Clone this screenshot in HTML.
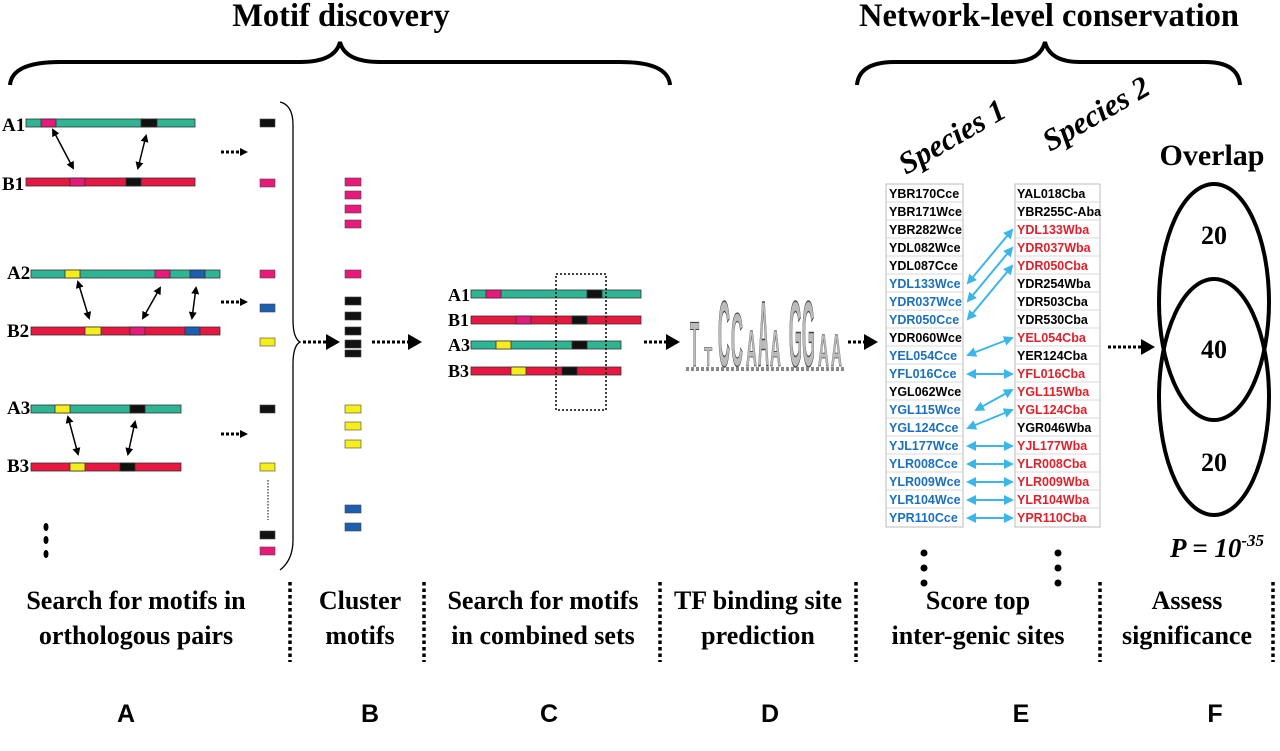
<!DOCTYPE html>
<html><head><meta charset="utf-8"><style>
body{margin:0;background:#fff}
svg{display:block}
.t{font-family:"Liberation Serif",serif;font-weight:bold}
.g{font-family:"Liberation Sans",sans-serif;font-weight:bold}
.L{font-family:"Liberation Sans",sans-serif;font-weight:bold;font-size:25px}
</style></head><body>
<svg width="1280" height="751" viewBox="0 0 1280 751" xmlns="http://www.w3.org/2000/svg">
<defs>
<marker id="ah" markerWidth="8" markerHeight="8" refX="6" refY="4" orient="auto-start-reverse" markerUnits="userSpaceOnUse"><path d="M0,0 L8,4 L0,8 z" fill="#000"/></marker>
<marker id="bh" markerWidth="10" markerHeight="10" refX="8" refY="5" orient="auto-start-reverse" markerUnits="userSpaceOnUse"><path d="M0,0 L10,5 L0,10 z" fill="#3bb6ea"/></marker>
<marker id="big" markerWidth="14" markerHeight="16" refX="4" refY="8" orient="auto" markerUnits="userSpaceOnUse"><path d="M0,0 L14,8 L0,16 z" fill="#000"/></marker>
</defs>
<style>
.da{stroke:#000;stroke-width:3;stroke-dasharray:3,2;fill:none}
.dv{stroke:#000;stroke-width:3.5;stroke-dasharray:3.5,3;fill:none}
</style>
<text class="t" x="341" y="26" font-size="32.5" text-anchor="middle">Motif discovery</text>
<text class="t" x="1049" y="26" font-size="32.5" text-anchor="middle">Network-level conservation</text>
<path d="M10,85 Q12,62 60,62 L300,62 Q335,62 340,42 Q345,62 380,62 L620,62 Q668,62 670,85" stroke="#000" stroke-width="4" fill="none"/>
<path d="M857,85 Q859,62 895,62 L1010,62 Q1040,62 1045,42 Q1050,62 1080,62 L1205,62 Q1238,62 1240,85" stroke="#000" stroke-width="4" fill="none"/>

<!-- Panel A -->
<g class="t" font-size="19">
<text x="2" y="131">A1</text><text x="2" y="190">B1</text>
<text x="7" y="279">A2</text><text x="7" y="337">B2</text>
<text x="7" y="414">A3</text><text x="7" y="472">B3</text>
</g>
<g stroke="#333" stroke-width="0.8">
<rect x="26" y="119" width="169" height="8" fill="#2eb593"/><rect x="41" y="119" width="15" height="8" fill="#e8197a"/><rect x="141" y="119" width="16" height="8" fill="#111"/>
<rect x="26" y="178" width="169" height="8" fill="#e8173f"/><rect x="70" y="178" width="15" height="8" fill="#e8197a"/><rect x="126" y="178" width="15" height="8" fill="#111"/>
<rect x="31" y="270" width="189" height="8" fill="#2eb593"/><rect x="65" y="270" width="15" height="8" fill="#f5ee1a"/><rect x="155" y="270" width="15" height="8" fill="#e8197a"/><rect x="190" y="270" width="15" height="8" fill="#1c5fb0"/>
<rect x="31" y="327" width="189" height="8" fill="#e8173f"/><rect x="85" y="327" width="16" height="8" fill="#f5ee1a"/><rect x="130" y="327" width="15" height="8" fill="#e8197a"/><rect x="185" y="327" width="15" height="8" fill="#1c5fb0"/>
<rect x="31" y="405" width="150" height="8" fill="#2eb593"/><rect x="55" y="405" width="15" height="8" fill="#f5ee1a"/><rect x="130" y="405" width="15" height="8" fill="#111"/>
<rect x="31" y="463" width="150" height="8" fill="#e8173f"/><rect x="70" y="463" width="15" height="8" fill="#f5ee1a"/><rect x="120" y="463" width="15" height="8" fill="#111"/>
</g>
<g stroke="#000" stroke-width="1.5" marker-start="url(#ah)" marker-end="url(#ah)">
<line x1="53" y1="130" x2="73" y2="168"/><line x1="146" y1="136" x2="138" y2="168"/>
<line x1="78" y1="282" x2="89" y2="318"/><line x1="160" y1="288" x2="143" y2="318"/><line x1="196" y1="288" x2="192" y2="318"/>
<line x1="68" y1="417" x2="78" y2="454"/><line x1="135" y1="422" x2="128" y2="454"/>
</g>
<g fill="#000"><ellipse cx="46" cy="527" rx="2.5" ry="4"/><ellipse cx="46" cy="540" rx="2.5" ry="4"/><ellipse cx="46" cy="554" rx="2.5" ry="4"/></g>
<line class="da" x1="221" y1="152" x2="246" y2="152" marker-end="url(#ah)"/>
<line class="da" x1="221" y1="302" x2="246" y2="302" marker-end="url(#ah)"/>
<line class="da" x1="221" y1="434" x2="246" y2="434" marker-end="url(#ah)"/>
<g stroke="#444" stroke-width="0.6">
<rect x="260" y="119" width="15" height="8" fill="#111"/><rect x="260" y="179" width="15" height="8" fill="#e8197a"/>
<rect x="260" y="270" width="15" height="8" fill="#e8197a"/><rect x="260" y="304" width="15" height="8" fill="#1c5fb0"/><rect x="260" y="338" width="15" height="8" fill="#f5ee1a"/>
<rect x="260" y="405" width="15" height="8" fill="#111"/><rect x="260" y="463" width="15" height="8" fill="#f5ee1a"/>
<rect x="260" y="531" width="15" height="8" fill="#111"/><rect x="260" y="547" width="15" height="8" fill="#e8197a"/>
</g>
<line x1="268" y1="480" x2="268" y2="520" stroke="#000" stroke-width="1" stroke-dasharray="1.5,1.5"/>
<path d="M280,102 Q293,105 293,125 L293,320 Q293,338 300,342 Q293,346 293,364 L293,540 Q293,560 280,570" stroke="#000" stroke-width="1.3" fill="none"/>
<line class="da" x1="303" y1="342" x2="330" y2="342" marker-end="url(#big)"/>

<!-- Panel B -->
<g stroke="#444" stroke-width="0.6">
<rect x="345" y="178" width="16" height="8" fill="#e8197a"/><rect x="345" y="191" width="16" height="8" fill="#e8197a"/><rect x="345" y="205" width="16" height="8" fill="#e8197a"/><rect x="345" y="220" width="16" height="8" fill="#e8197a"/>
<rect x="345" y="270" width="16" height="8" fill="#e8197a"/>
<rect x="345" y="297" width="16" height="8" fill="#111"/><rect x="345" y="312" width="16" height="8" fill="#111"/><rect x="345" y="327" width="16" height="8" fill="#111"/><rect x="345" y="340" width="16" height="8" fill="#111"/><rect x="345" y="350" width="16" height="7" fill="#111"/>
<rect x="345" y="405" width="16" height="8" fill="#f5ee1a"/><rect x="345" y="422" width="16" height="8" fill="#f5ee1a"/><rect x="345" y="440" width="16" height="8" fill="#f5ee1a"/>
<rect x="345" y="505" width="16" height="8" fill="#1c5fb0"/><rect x="345" y="523" width="16" height="8" fill="#1c5fb0"/>
</g>
<line class="da" x1="372" y1="342" x2="412" y2="342" marker-end="url(#big)"/>

<!-- Panel C -->
<g class="t" font-size="18">
<text x="448" y="301">A1</text><text x="448" y="326">B1</text><text x="448" y="351">A3</text><text x="448" y="377">B3</text>
</g>
<g stroke="#333" stroke-width="0.8">
<rect x="471" y="290" width="170" height="8" fill="#2eb593"/><rect x="486" y="290" width="15" height="8" fill="#e8197a"/><rect x="587" y="290" width="15" height="8" fill="#111"/>
<rect x="471" y="316" width="170" height="8" fill="#e8173f"/><rect x="516" y="316" width="15" height="8" fill="#e8197a"/><rect x="572" y="316" width="15" height="8" fill="#111"/>
<rect x="471" y="341" width="150" height="8" fill="#2eb593"/><rect x="496" y="341" width="15" height="8" fill="#f5ee1a"/><rect x="572" y="341" width="15" height="8" fill="#111"/>
<rect x="471" y="367" width="150" height="8" fill="#e8173f"/><rect x="511" y="367" width="15" height="8" fill="#f5ee1a"/><rect x="562" y="367" width="15" height="8" fill="#111"/>
</g>
<rect x="556" y="274" width="50" height="136" fill="none" stroke="#000" stroke-width="1.5" stroke-dasharray="2,2"/>
<line class="da" x1="644" y1="342" x2="670" y2="342" marker-end="url(#big)"/>

<!-- Panel D logo -->
<g font-family="Liberation Sans,sans-serif" font-weight="bold" font-size="30" fill="#bbb" stroke="#444" stroke-width="0.5">
<text transform="translate(690,366) scale(0.5,2.1)">T</text>
<text transform="translate(704,366) scale(0.45,0.9)">T</text>
<text transform="translate(718,366) scale(0.55,3.1)">C</text>
<text transform="translate(731,366) scale(0.55,2.5)">C</text>
<text transform="translate(746,366) scale(0.5,1.7)">A</text>
<text transform="translate(758,366) scale(0.5,3.1)">A</text>
<text transform="translate(770,366) scale(0.5,1.7)">A</text>
<text transform="translate(789,366) scale(0.55,3.1)">G</text>
<text transform="translate(802,366) scale(0.55,3.1)">G</text>
<text transform="translate(818,366) scale(0.5,1.5)">A</text>
<text transform="translate(831,366) scale(0.5,1.5)">A</text>
</g>
<line x1="686" y1="369" x2="844" y2="369" stroke="#888" stroke-width="4" stroke-dasharray="3,2"/>
<line class="da" x1="848" y1="342" x2="868" y2="342" marker-end="url(#big)"/>

<!-- Panel E -->
<text class="t" font-style="italic" font-size="31" transform="translate(906,175) rotate(-30)">Species 1</text>
<text class="t" font-style="italic" font-size="31" transform="translate(1050,152) rotate(-30)">Species 2</text>
<g class="g">
<g fill="none" stroke="#bbb" stroke-width="1">
<rect x="886" y="184" width="77" height="343"/>
<rect x="1015" y="184" width="85" height="343"/>
</g>
<g stroke="#ccc" stroke-width="0.7">
<line x1="886" y1="202" x2="963" y2="202"/><line x1="886" y1="220" x2="963" y2="220"/><line x1="886" y1="238" x2="963" y2="238"/><line x1="886" y1="256" x2="963" y2="256"/><line x1="886" y1="274" x2="963" y2="274"/><line x1="886" y1="292" x2="963" y2="292"/><line x1="886" y1="310" x2="963" y2="310"/><line x1="886" y1="328" x2="963" y2="328"/><line x1="886" y1="346" x2="963" y2="346"/><line x1="886" y1="364" x2="963" y2="364"/><line x1="886" y1="382" x2="963" y2="382"/><line x1="886" y1="400" x2="963" y2="400"/><line x1="886" y1="418" x2="963" y2="418"/><line x1="886" y1="436" x2="963" y2="436"/><line x1="886" y1="454" x2="963" y2="454"/><line x1="886" y1="472" x2="963" y2="472"/><line x1="886" y1="490" x2="963" y2="490"/><line x1="886" y1="508" x2="963" y2="508"/>
<line x1="1015" y1="202" x2="1100" y2="202"/><line x1="1015" y1="220" x2="1100" y2="220"/><line x1="1015" y1="238" x2="1100" y2="238"/><line x1="1015" y1="256" x2="1100" y2="256"/><line x1="1015" y1="274" x2="1100" y2="274"/><line x1="1015" y1="292" x2="1100" y2="292"/><line x1="1015" y1="310" x2="1100" y2="310"/><line x1="1015" y1="328" x2="1100" y2="328"/><line x1="1015" y1="346" x2="1100" y2="346"/><line x1="1015" y1="364" x2="1100" y2="364"/><line x1="1015" y1="382" x2="1100" y2="382"/><line x1="1015" y1="400" x2="1100" y2="400"/><line x1="1015" y1="418" x2="1100" y2="418"/><line x1="1015" y1="436" x2="1100" y2="436"/><line x1="1015" y1="454" x2="1100" y2="454"/><line x1="1015" y1="472" x2="1100" y2="472"/><line x1="1015" y1="490" x2="1100" y2="490"/><line x1="1015" y1="508" x2="1100" y2="508"/>
</g>
<g font-size="12.5">
<text x="889" y="198">YBR170Cce</text><text x="889" y="216">YBR171Wce</text><text x="889" y="234">YBR282Wce</text><text x="889" y="252">YDL082Wce</text><text x="889" y="270">YDL087Cce</text>
<text x="889" y="288" fill="#1a70c0">YDL133Wce</text><text x="889" y="306" fill="#1a70c0">YDR037Wce</text><text x="889" y="324" fill="#1a70c0">YDR050Cce</text>
<text x="889" y="342">YDR060Wce</text><text x="889" y="360" fill="#1a70c0">YEL054Cce</text><text x="889" y="378" fill="#1a70c0">YFL016Cce</text>
<text x="889" y="396">YGL062Wce</text><text x="889" y="414" fill="#1a70c0">YGL115Wce</text><text x="889" y="432" fill="#1a70c0">YGL124Cce</text>
<text x="889" y="450" fill="#1a70c0">YJL177Wce</text><text x="889" y="468" fill="#1a70c0">YLR008Cce</text><text x="889" y="486" fill="#1a70c0">YLR009Wce</text><text x="889" y="504" fill="#1a70c0">YLR104Wce</text><text x="889" y="522" fill="#1a70c0">YPR110Cce</text>
<text x="1017" y="198">YAL018Cba</text><text x="1017" y="216">YBR255C-Aba</text><text x="1017" y="234" fill="#e0202a">YDL133Wba</text><text x="1017" y="252" fill="#e0202a">YDR037Wba</text><text x="1017" y="270" fill="#e0202a">YDR050Cba</text>
<text x="1017" y="288">YDR254Wba</text><text x="1017" y="306">YDR503Cba</text><text x="1017" y="324">YDR530Cba</text><text x="1017" y="342" fill="#e0202a">YEL054Cba</text><text x="1017" y="360">YER124Cba</text>
<text x="1017" y="378" fill="#e0202a">YFL016Cba</text><text x="1017" y="396" fill="#e0202a">YGL115Wba</text><text x="1017" y="414" fill="#e0202a">YGL124Cba</text><text x="1017" y="432">YGR046Wba</text>
<text x="1017" y="450" fill="#e0202a">YJL177Wba</text><text x="1017" y="468" fill="#e0202a">YLR008Cba</text><text x="1017" y="486" fill="#e0202a">YLR009Wba</text><text x="1017" y="504" fill="#e0202a">YLR104Wba</text><text x="1017" y="522" fill="#e0202a">YPR110Cba</text>
</g>
</g>
<g stroke="#3bb6ea" stroke-width="2" marker-start="url(#bh)" marker-end="url(#bh)">
<line x1="968" y1="283" x2="1012" y2="230"/><line x1="968" y1="301" x2="1012" y2="248"/><line x1="968" y1="319" x2="1012" y2="266"/>
<line x1="968" y1="355" x2="1012" y2="338"/><line x1="968" y1="374" x2="1012" y2="374"/>
<line x1="976" y1="410" x2="1012" y2="390"/><line x1="968" y1="428" x2="1012" y2="410"/>
<line x1="968" y1="446" x2="1012" y2="446"/><line x1="968" y1="464" x2="1012" y2="464"/><line x1="968" y1="482" x2="1012" y2="482"/><line x1="968" y1="500" x2="1012" y2="500"/><line x1="968" y1="518" x2="1012" y2="518"/>
</g>
<g fill="#000"><circle cx="924" cy="553" r="3.5"/><circle cx="924" cy="568" r="3.5"/><circle cx="924" cy="583" r="3.5"/><circle cx="1058" cy="553" r="3.5"/><circle cx="1058" cy="568" r="3.5"/><circle cx="1058" cy="583" r="3.5"/></g>
<line class="da" x1="1108" y1="347" x2="1145" y2="347" marker-end="url(#big)"/>

<!-- Panel F -->
<text class="t" x="1212" y="165" font-size="30" text-anchor="middle">Overlap</text>
<ellipse cx="1214" cy="302" rx="55" ry="118" fill="none" stroke="#000" stroke-width="4"/>
<ellipse cx="1214" cy="397" rx="55" ry="118" fill="none" stroke="#000" stroke-width="4"/>
<g class="t" font-size="26" text-anchor="middle"><text x="1214" y="244">20</text><text x="1214" y="358">40</text><text x="1214" y="471">20</text></g>
<text class="t" x="1170" y="557" font-size="27" font-style="italic">P = 10<tspan font-size="17" dy="-11">-35</tspan></text>

<!-- dividers -->
<g class="dv"><line x1="290" y1="582" x2="290" y2="662"/><line x1="424" y1="582" x2="424" y2="662"/><line x1="660" y1="582" x2="660" y2="662"/><line x1="856" y1="582" x2="856" y2="662"/><line x1="1100" y1="582" x2="1100" y2="662"/><line x1="1273" y1="582" x2="1273" y2="662"/></g>
<g class="t" font-size="26" text-anchor="middle">
<text x="136" y="609">Search for motifs in</text><text x="136" y="644">orthologous pairs</text>
<text x="360" y="609">Cluster</text><text x="360" y="644">motifs</text>
<text x="543" y="609">Search for motifs</text><text x="543" y="644">in combined sets</text>
<text x="758" y="609">TF binding site</text><text x="758" y="644">prediction</text>
<text x="978" y="609">Score top</text><text x="978" y="644">inter-genic sites</text>
<text x="1187" y="609">Assess</text><text x="1187" y="644">significance</text>
</g>
<g class="L" text-anchor="middle"><text x="126" y="722">A</text><text x="370" y="722">B</text><text x="549" y="722">C</text><text x="770" y="722">D</text><text x="1021" y="722">E</text><text x="1215" y="722">F</text></g>
</svg>
</body></html>
